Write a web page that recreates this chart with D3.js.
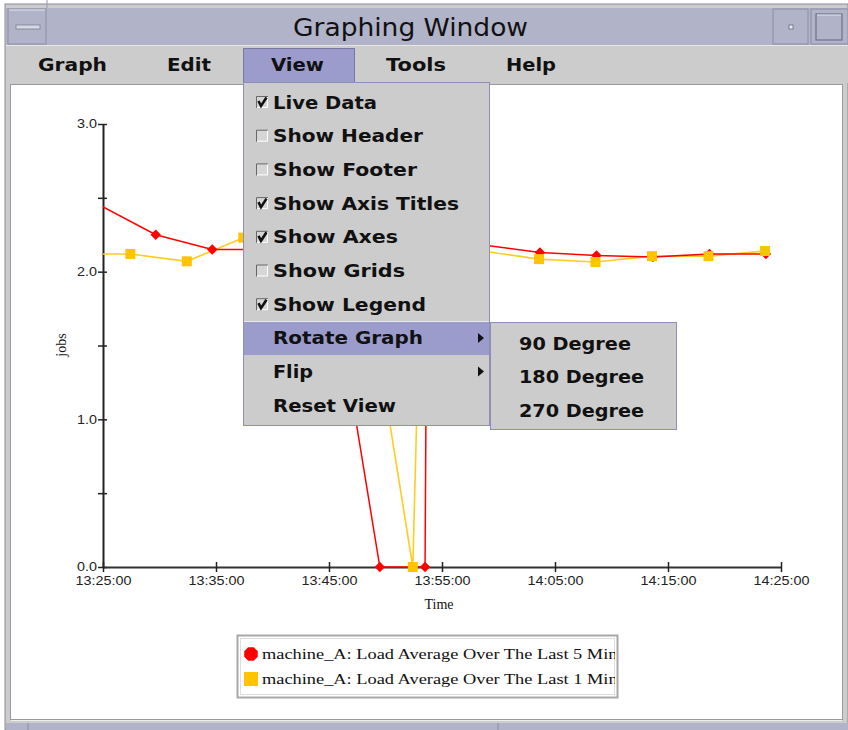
<!DOCTYPE html>
<html>
<head>
<meta charset="utf-8">
<script src="https://cdn.jsdelivr.net/npm/d3@7"></script>
<style>
  html, body { margin: 0; padding: 0; background: #ffffff; }
  svg { display: block; }
</style>
</head>
<body>
<svg id="chart" width="848" height="730"></svg>
<script>
// ---------- data ----------
const windowTitle = "Graphing Window";
const menuBarItems = ["Graph", "Edit", "View", "Tools", "Help"];
const viewMenuItems = ["Live Data", "Show Header", "Show Footer", "Show Axis Titles", "Show Axes", "Show Grids", "Show Legend", "Rotate Graph", "Flip", "Reset View"];
const viewMenuChecks = ["on", "off", "off", "on", "on", "off", "on", "none", "none", "none"];
const rotateSubItems = ["90 Degree", "180 Degree", "270 Degree"];

const seriesNames = ["machine_A: Load Average Over The Last 5 Minutes", "machine_A: Load Average Over The Last 1 Minute"];

const times5 = ["13:21:00","13:29:40","13:34:40","13:39:40","13:44:40","13:49:30","13:53:30","13:53:40","13:58:40","14:03:40","14:08:40","14:13:40","14:18:40","14:23:40"];
const values5 = [2.60, 2.25, 2.15, 2.15, 2.26, 0.0, 0.0, 2.20, 2.18, 2.13, 2.11, 2.10, 2.12, 2.12];

const times1 = ["13:22:00","13:27:25","13:32:25","13:37:25","13:42:25","13:47:25","13:52:25","13:53:10","13:58:35","14:03:35","14:08:35","14:13:35","14:18:35","14:23:35"];
const values1 = [2.12, 2.12, 2.07, 2.23, 2.25, 2.39, 0.0, 2.20, 2.14, 2.085, 2.065, 2.105, 2.105, 2.14];

const xTickLabels = ["13:25:00","13:35:00","13:45:00","13:55:00","14:05:00","14:15:00","14:25:00"];
const yTickValues = [0, 0.5, 1.0, 1.5, 2.0, 2.5, 3.0];
const xAxisTitle = "Time";
const yAxisTitle = "jobs";

// ---------- setup ----------
const svg = d3.select("#chart");
const parse = d3.timeParse("%H:%M:%S");
const fmt = d3.timeFormat("%H:%M:%S");

const plot = { left: 103, right: 781, top: 124, bottom: 567 };
const x = d3.scaleTime().domain([parse("13:25:00"), parse("14:25:00")]).range([plot.left, plot.right]);
const y = d3.scaleLinear().domain([0, 3]).range([plot.bottom, plot.top]);

const lavender = "#b1b3c8";
const menuGray = "#cccccc";
const highlight = "#9c9ccc";
const menuBorder = "#8e8eb8";

// ---------- window frame ----------
svg.append("rect").attr("x", 0).attr("y", 0).attr("width", 848).attr("height", 730).attr("fill", "#ffffff");
svg.append("rect").attr("x", 5).attr("y", 4).attr("width", 843).attr("height", 726).attr("fill", menuGray).attr("stroke", "#8a8a9a");
// title bar
svg.append("rect").attr("x", 6).attr("y", 8).attr("width", 842).attr("height", 37).attr("fill", lavender);
svg.append("line").attr("x1", 47).attr("x2", 47).attr("y1", 0).attr("y2", 8).attr("stroke", "#9a9cb0");
// left button
svg.append("rect").attr("x", 8).attr("y", 9).attr("width", 38).attr("height", 35).attr("fill", lavender).attr("stroke", "#8c8ea4");
svg.append("line").attr("x1", 9).attr("x2", 45).attr("y1", 10).attr("y2", 10).attr("stroke", "#e4e5ee");
svg.append("rect").attr("x", 16).attr("y", 25).attr("width", 24).attr("height", 4).attr("fill", "#d8d9e4").attr("stroke", "#7c7e94").attr("stroke-width", 0.8);
// right buttons
svg.append("rect").attr("x", 773).attr("y", 9).attr("width", 35).attr("height", 35).attr("fill", lavender).attr("stroke", "#8c8ea4");
svg.append("rect").attr("x", 789).attr("y", 25).attr("width", 4).attr("height", 4).attr("fill", "#e8e8f0").attr("stroke", "#6a6c80").attr("stroke-width", 0.8);
svg.append("rect").attr("x", 811).attr("y", 9).attr("width", 37).attr("height", 35).attr("fill", lavender).attr("stroke", "#8c8ea4");
svg.append("rect").attr("x", 816).attr("y", 14).attr("width", 26).attr("height", 26).attr("fill", lavender).attr("stroke", "#6e7086").attr("stroke-width", 1.2);
svg.append("line").attr("x1", 817).attr("x2", 841).attr("y1", 15).attr("y2", 15).attr("stroke", "#e4e5ee");
// title
svg.append("text").attr("x", 293).attr("y", 36).attr("textLength", 235).attr("lengthAdjust", "spacingAndGlyphs")
  .attr("font-family", "'DejaVu Sans Condensed', 'Liberation Sans Narrow', 'DejaVu Sans', sans-serif")
  .attr("font-size", 25).attr("fill", "#111").text(windowTitle);

// menu bar
svg.append("rect").attr("x", 6).attr("y", 45).attr("width", 842).attr("height", 38).attr("fill", menuGray);
svg.append("line").attr("x1", 6).attr("x2", 848).attr("y1", 45.5).attr("y2", 45.5).attr("stroke", "#e6e6e6");
// View highlight
svg.append("rect").attr("x", 243.5).attr("y", 48.5).attr("width", 111).attr("height", 34).attr("fill", highlight).attr("stroke", "#7a7aa0");
const menuBarX = [38, 167, 271, 386, 506];
const menuBarW = [69, 44, 53, 60, 50];
svg.append("g").selectAll("text").data(menuBarItems).join("text")
  .attr("x", (d, i) => menuBarX[i]).attr("y", 71)
  .attr("textLength", (d, i) => menuBarW[i]).attr("lengthAdjust", "spacingAndGlyphs")
  .attr("font-family", "'DejaVu Sans', sans-serif").attr("font-weight", "bold").attr("font-size", 17)
  .attr("fill", "#111").text(d => d);

// content panel
svg.append("rect").attr("x", 10.5).attr("y", 84.5).attr("width", 832).attr("height", 635).attr("fill", "#ffffff").attr("stroke", "#9a9a9a");
svg.append("line").attr("x1", 11).attr("x2", 842).attr("y1", 720.5).attr("y2", 720.5).attr("stroke", "#eeeeee");
// bottom strip
svg.append("rect").attr("x", 6).attr("y", 723).attr("width", 842).attr("height", 7).attr("fill", lavender);
svg.append("line").attr("x1", 28).attr("x2", 28).attr("y1", 723).attr("y2", 730).attr("stroke", "#8c8ea4");
svg.append("line").attr("x1", 498).attr("x2", 498).attr("y1", 723).attr("y2", 730).attr("stroke", "#8c8ea4");

// ---------- chart ----------
const defs = svg.append("defs");
defs.append("clipPath").attr("id", "plotClip").append("rect")
  .attr("x", plot.left).attr("y", plot.top - 20).attr("width", plot.right - plot.left + 15).attr("height", plot.bottom - plot.top + 30);

// axes
const yAxis = d3.axisLeft(y).tickValues(yTickValues)
  .tickFormat(d => Number.isInteger(d) ? d.toFixed(1) : "").tickSizeInner(5).tickSizeOuter(0).tickPadding(3);
const gy = svg.append("g").attr("transform", `translate(${plot.left},0)`).call(yAxis);
gy.select(".domain").attr("stroke", "#222").attr("stroke-width", 2);
gy.selectAll(".tick line").attr("x1", 4).attr("x2", -5).attr("stroke", "#222").attr("stroke-width", 1.5);
gy.selectAll(".tick text").attr("font-family", "'Liberation Sans', Arial, sans-serif").attr("font-size", 12)
  .attr("fill", "#222").attr("x", -6)
  .each(function(d) { if (Number.isInteger(d)) d3.select(this).attr("textLength", 20).attr("lengthAdjust", "spacingAndGlyphs"); });

const xAxis = d3.axisBottom(x).tickValues(xTickLabels.map(parse)).tickFormat(fmt).tickSizeInner(5).tickSizeOuter(0);
const gx = svg.append("g").attr("transform", `translate(0,${plot.bottom})`).call(xAxis);
gx.select(".domain").attr("stroke", "#333").attr("stroke-width", 2);
gx.selectAll(".tick line").attr("y1", -5).attr("y2", 5).attr("stroke", "#222").attr("stroke-width", 1.5);
gx.selectAll(".tick text").attr("font-family", "'Liberation Sans', Arial, sans-serif").attr("font-size", 12)
  .attr("fill", "#222").attr("y", 18).attr("dy", 0)
  .attr("textLength", 56).attr("lengthAdjust", "spacingAndGlyphs")
  .attr("x", -28).attr("text-anchor", "start");

// axis titles
svg.append("text").attr("x", 439).attr("y", 609).attr("text-anchor", "middle")
  .attr("font-family", "'Liberation Serif', 'Times New Roman', serif").attr("font-size", 14).attr("fill", "#111").text(xAxisTitle);
svg.append("text").attr("transform", "translate(66,345) rotate(-90)").attr("text-anchor", "middle")
  .attr("font-family", "'Liberation Serif', 'Times New Roman', serif").attr("font-size", 14).attr("fill", "#111").text(yAxisTitle);

// series
const red = "#ff0000";
const yellow = "#ffc400";
const data5 = times5.map((t, i) => ({ t: parse(t), v: values5[i] }));
const data1 = times1.map((t, i) => ({ t: parse(t), v: values1[i] }));
const line = d3.line().x(d => x(d.t)).y(d => y(d.v));
const series = svg.append("g").attr("clip-path", "url(#plotClip)");

series.append("path").datum(data1).attr("d", line).attr("fill", "none").attr("stroke", "#ffcc22").attr("stroke-width", 1.6);
series.append("path").datum(data5).attr("d", line).attr("fill", "none").attr("stroke", red).attr("stroke-width", 1.5);

const inDomain = d => d.t >= x.domain()[0];
series.append("g").selectAll("path").data(data5.filter(inDomain)).join("path")
  .attr("transform", d => `translate(${x(d.t)},${y(d.v)})`)
  .attr("d", d3.symbol(d3.symbolDiamond2, 70)).attr("fill", red);
series.append("g").selectAll("rect").data(data1.filter(inDomain)).join("rect")
  .attr("x", d => x(d.t) - 5).attr("y", d => y(d.v) - 5).attr("width", 10).attr("height", 10).attr("fill", yellow);

// legend
const lg = svg.append("g");
lg.append("rect").attr("x", 237.5).attr("y", 635.5).attr("width", 380).attr("height", 62).attr("fill", "#ffffff").attr("stroke", "#a8a8a8").attr("stroke-width", 2);
lg.append("rect").attr("x", 240.5).attr("y", 638.5).attr("width", 374).attr("height", 56).attr("fill", "none").attr("stroke", "#dddddd").attr("stroke-width", 1);
defs.append("clipPath").attr("id", "legClip").append("rect").attr("x", 240).attr("y", 638).attr("width", 375).attr("height", 57);
const legY = [654, 679];
const legColors = [red, yellow];
const lgi = lg.append("g").attr("clip-path", "url(#legClip)");
lgi.append("path").attr("transform", `translate(251,${legY[0]})`)
  .attr("d", d3.line()(d3.range(8).map(k => { const a = Math.PI / 8 + k * Math.PI / 4; return [7.3 * Math.cos(a), 7.3 * Math.sin(a)]; })) + "Z")
  .attr("fill", legColors[0]);
lgi.append("rect").attr("x", 244).attr("y", legY[1] - 7).attr("width", 14).attr("height", 14).attr("fill", legColors[1]);
lgi.selectAll("text").data(seriesNames).join("text")
  .attr("x", 262).attr("y", (d, i) => legY[i] + 5)
  .attr("textLength", (d, i) => i === 0 ? 385 : 378).attr("lengthAdjust", "spacingAndGlyphs")
  .attr("font-family", "'Liberation Serif', 'Times New Roman', serif").attr("font-size", 15).attr("fill", "#111").text(d => d);

// ---------- View menu (dropdown) ----------
const menu = svg.append("g");
menu.append("rect").attr("x", 243.5).attr("y", 82.5).attr("width", 246).attr("height", 343).attr("fill", menuGray).attr("stroke", menuBorder);
const itemY = d3.range(viewMenuItems.length).map(i => 102 + i * 33.7);
menu.append("rect").attr("x", 244).attr("y", 322).attr("width", 245).attr("height", 33).attr("fill", highlight);
menu.append("line").attr("x1", 244).attr("x2", 489).attr("y1", 321.5).attr("y2", 321.5).attr("stroke", "#e8e8f0");
const itemW = [104, 150, 144, 186, 125, 132, 153, 150, 40, 123];
menu.selectAll("text.item").data(viewMenuItems).join("text").attr("class", "item")
  .attr("x", 273).attr("y", (d, i) => itemY[i] + 6.5)
  .attr("textLength", (d, i) => itemW[i]).attr("lengthAdjust", "spacingAndGlyphs")
  .attr("font-family", "'DejaVu Sans', sans-serif").attr("font-weight", "bold").attr("font-size", 17)
  .attr("fill", "#111").text(d => d);
// checkboxes
viewMenuItems.forEach((d, i) => {
  if (viewMenuChecks[i] === "none") return;
  const cy = itemY[i];
  const g = menu.append("g").attr("transform", `translate(256,${cy - 6})`);
  g.append("rect").attr("x", 0).attr("y", 0).attr("width", 12).attr("height", 12).attr("fill", "#d6d6d6");
  g.append("path").attr("d", "M0.5,12 V0.5 H12").attr("fill", "none").attr("stroke", "#666").attr("stroke-width", 1);
  g.append("path").attr("d", "M1,11.5 H11.5 V1").attr("fill", "none").attr("stroke", "#ffffff").attr("stroke-width", 1);
  if (viewMenuChecks[i] === "on") {
    g.append("path").attr("d", "M2.5,5 L5,10 L10.5,1.5").attr("fill", "none").attr("stroke", "#111").attr("stroke-width", 2.6);
  }
});
// submenu arrows
[7, 8].forEach(i => {
  const cy = itemY[i];
  menu.append("path").attr("d", `M478,${cy - 5} L484,${cy} L478,${cy + 5} Z`).attr("fill", "#111");
});

// ---------- Rotate submenu ----------
const sub = svg.append("g");
sub.append("rect").attr("x", 490.5).attr("y", 322.5).attr("width", 186).attr("height", 107).attr("fill", menuGray).attr("stroke", menuBorder);
const subW = [112, 125, 125];
sub.selectAll("text").data(rotateSubItems).join("text")
  .attr("x", 519).attr("y", (d, i) => 343 + i * 33.5 + 6.5)
  .attr("textLength", (d, i) => subW[i]).attr("lengthAdjust", "spacingAndGlyphs")
  .attr("font-family", "'DejaVu Sans', sans-serif").attr("font-weight", "bold").attr("font-size", 17)
  .attr("fill", "#111").text(d => d);
</script>
</body>
</html>
